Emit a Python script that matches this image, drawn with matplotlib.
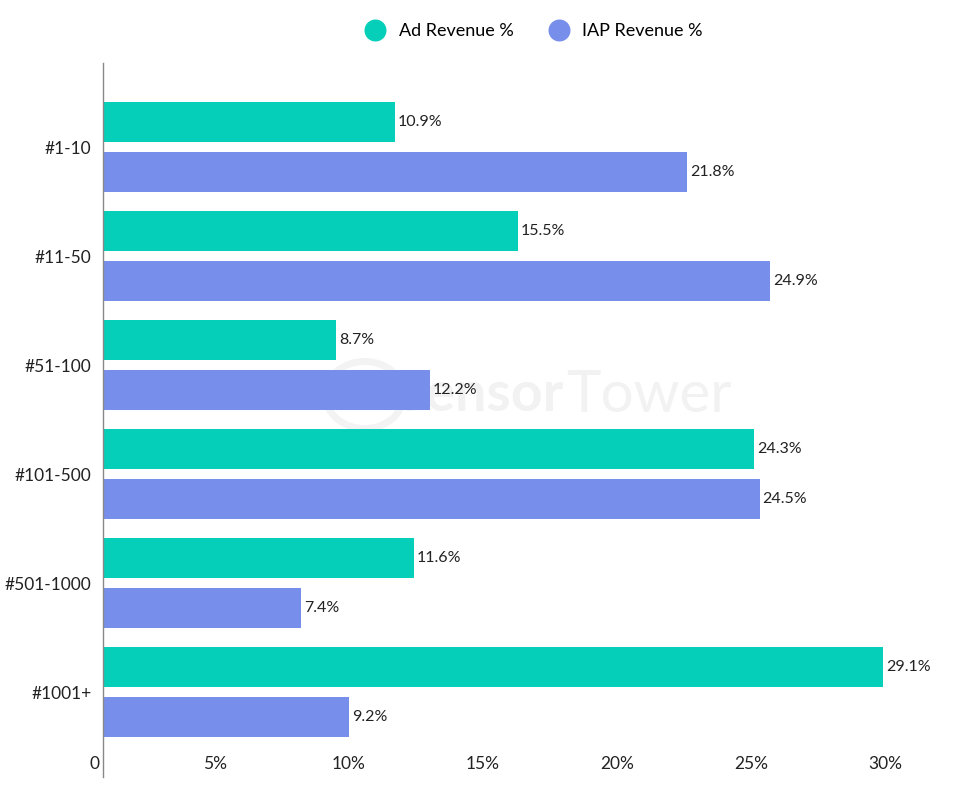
import numpy as np
import matplotlib.pyplot as plt
from matplotlib.transforms import ScaledTranslation
from matplotlib.patches import Circle

plt.rcParams['font.family'] = ['Lato', 'DejaVu Sans']

# datos
categorias = ['#1-10', '#11-50', '#51-100', '#101-500', '#501-1000', '#1001+']
ad_revenue = [10.9, 15.5, 8.7, 24.3, 11.6, 29.1]
iap_revenue = [21.8, 24.9, 12.2, 24.5, 7.4, 9.2]
ticks = [0, 5, 10, 15, 20, 25, 30]
tick_labels = ['0', '5%', '10%', '15%', '20%', '25%', '30%']

color_ad = '#05CFB8'
color_iap = '#778FEB'

fig = plt.figure(figsize=(9.6, 7.97), dpi=100)
ax = fig.add_axes([0.107, 0.025, 0.866, 0.896])

y = np.arange(len(categorias))
alto = 0.367
desp = 0.229

# marca de agua
ax.text(0.353, 0.535, 'Sensor', transform=ax.transAxes, fontsize=40, fontweight='bold',
        color='#f2f2f2', ha='left', va='center', zorder=0)
ax.text(0.557, 0.535, 'Tower', transform=ax.transAxes, fontsize=42,
        color='#f2f2f2', ha='left', va='center', zorder=0)
ax.add_patch(Circle((0.315, 0.535), 0.047, transform=ax.transAxes, fill=False,
                    lw=5, ec='#f3f3f3', zorder=0))

b1 = ax.barh(y - desp, ad_revenue, height=alto, color=color_ad, zorder=2)
b2 = ax.barh(y + desp, iap_revenue, height=alto, color=color_iap, zorder=2)

for barras, valores in [(b1, ad_revenue), (b2, iap_revenue)]:
    for b, v in zip(barras, valores):
        ax.annotate(f'{v}%', (b.get_width(), b.get_y() + b.get_height() / 2),
                    xytext=(2, 0), textcoords='offset points', ha='left', va='center',
                    fontsize=11.5, color='#222222', zorder=3)

ax.set_xlim(0, 31)
ax.set_ylim(5.78, -0.771)
ax.set_yticks(y)
ax.set_yticklabels(categorias, fontsize=12.5, color='#222222')
ax.set_xticks(ticks)
ax.set_xticklabels(tick_labels, fontsize=12.5, color='#222222')
ax.tick_params(axis='y', length=0, pad=8)
ax.tick_params(axis='x', length=0, pad=-15)

# las etiquetas del eje x aparecen desplazadas a la izquierda en el original
for i, lab in enumerate(ax.get_xticklabels()):
    if i == 0:
        lab.set_ha('right')
        lab.set_transform(lab.get_transform() + ScaledTranslation(-0.03, 0, fig.dpi_scale_trans))
    else:
        lab.set_transform(lab.get_transform() + ScaledTranslation(-0.22, 0, fig.dpi_scale_trans))

for s in ['top', 'right', 'bottom']:
    ax.spines[s].set_visible(False)
ax.spines['left'].set_color('#888888')
ax.spines['left'].set_linewidth(1)

# leyenda
ax.scatter([], [], s=220, color=color_ad, label='Ad Revenue %')
ax.scatter([], [], s=220, color=color_iap, label='IAP Revenue %')
fig.legend(loc='center', bbox_to_anchor=(0.552, 0.961), ncol=2, frameon=False,
           fontsize=13, handletextpad=0.3, columnspacing=1.5, scatteryoffsets=[0.5])

fig.savefig('out.png', dpi=100)
